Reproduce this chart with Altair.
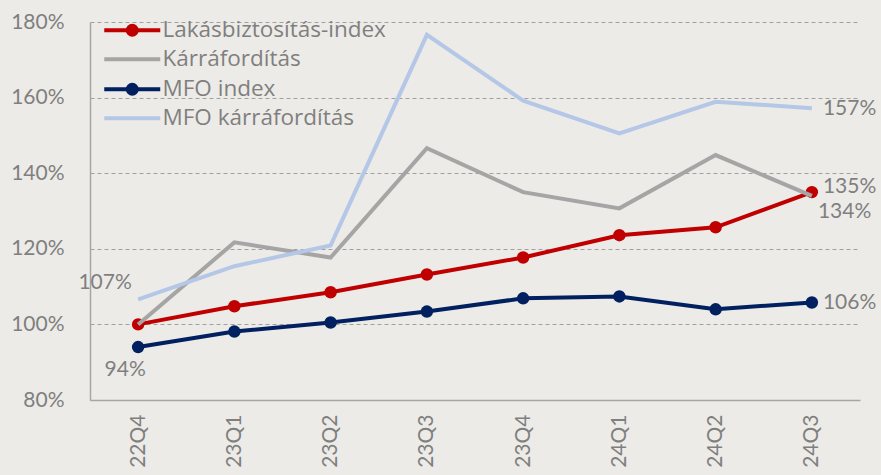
import altair as alt
import pandas as pd

quarters = ["22Q4", "23Q1", "23Q2", "23Q3", "23Q4", "24Q1", "24Q2", "24Q3"]
series_names = ["Lakásbiztosítás-index", "Kárráfordítás", "MFO index", "MFO kárráfordítás"]
series_colors = ["#C00000", "#A5A5A5", "#002060", "#B4C7E7"]
lakas = [1.000, 1.048, 1.085, 1.132, 1.177, 1.236, 1.257, 1.350]
karr = [1.000, 1.217, 1.177, 1.466, 1.350, 1.307, 1.448, 1.340]
mfo_index = [0.940, 0.981, 1.005, 1.034, 1.069, 1.074, 1.040, 1.058]
mfo_karr = [1.066, 1.154, 1.209, 1.766, 1.592, 1.505, 1.589, 1.572]
marker_series = ["Lakásbiztosítás-index", "MFO index"]

values = [lakas, karr, mfo_index, mfo_karr]
rows = []
for name, vals in zip(series_names, values):
    for q, v in zip(quarters, vals):
        rows.append({"quarter": q, "series": name, "value": v})
df = pd.DataFrame(rows)

FONT = "Lato"
LEG_FONT = "Open Sans"
TXT = "#7f7f7f"

line_marker_path = "M-4,0L4,0M-0.64,0A0.64,0.64 0 1,0 0.64,0A0.64,0.64 0 1,0 -0.64,0Z"
line_path = "M-4,0L4,0"

legend = alt.Legend(
    title=None,
    orient="none",
    legendX=31,
    legendY=-3,
    padding=0,
    labelFont=LEG_FONT,
    labelFontSize=22.5,
    labelColor=TXT,
    labelLimit=400,
    labelOffset=19,
    rowPadding=5,
    symbolSize=196,
    symbolStrokeWidth=4,
    symbolType={"expr": "indexof(['Lakásbiztosítás-index','MFO index'], datum.value) >= 0 ? '"
                        + line_marker_path + "' : '" + line_path + "'"},
    symbolFillColor={"expr": "indexof(['Lakásbiztosítás-index','MFO index'], datum.value) >= 0 ? scale('color', datum.value) : 'transparent'"},
)

x_enc = alt.X(
    "quarter:O",
    sort=quarters,
    scale=alt.Scale(type="point", padding=0.5),
    title=None,
    axis=alt.Axis(labelAngle=-90, labelFont=FONT, labelFontSize=21, labelColor=TXT,
                  labelPadding=14, ticks=False, domainColor="#a6a6a6", domainWidth=1.5,
                  grid=False),
)
y_enc = alt.Y(
    "value:Q",
    scale=alt.Scale(domain=[0.8, 1.8], nice=False, zero=False),
    title=None,
    axis=alt.Axis(values=[0.8, 1.0, 1.2, 1.4, 1.6, 1.8], format=".0%", labelFont=FONT,
                  labelFontSize=21, labelColor=TXT, labelPadding=26, ticks=False,
                  domainColor="#a6a6a6", domainWidth=1.5, grid=True,
                  gridColor="#a0a0a0", gridDash=[4, 3], gridWidth=1),
)
color_enc = alt.Color("series:N", scale=alt.Scale(domain=series_names, range=series_colors),
                      legend=legend)

base = alt.Chart(df).encode(x=x_enc, y=y_enc, color=color_enc)

layers = []
for name in series_names:
    sub = base.transform_filter(alt.datum.series == name)
    layers.append(sub.mark_line(strokeWidth=4))
    if name in marker_series:
        layers.append(sub.mark_point(filled=True, size=155, opacity=1))

def label(series, quarter, dx, dy, align):
    return alt.Chart(df).transform_filter(
        (alt.datum.series == series) & (alt.datum.quarter == quarter)
    ).mark_text(font=FONT, fontSize=21, color=TXT, dx=dx, dy=dy, align=align,
                baseline="middle").encode(
        x=alt.X("quarter:O", sort=quarters), y="value:Q",
        text=alt.Text("value:Q", format=".0%"))

layers += [
    label("MFO kárráfordítás", "22Q4", -33, -16, "center"),
    label("MFO index", "22Q4", -13, 23, "center"),
    label("MFO kárráfordítás", "24Q3", 11, 1, "left"),
    label("Lakásbiztosítás-index", "24Q3", 11, -5, "left"),
    label("Kárráfordítás", "24Q3", 6, 16, "left"),
    label("MFO index", "24Q3", 11, 1, "left"),
]

chart = alt.layer(*layers).properties(
    width=770, height=378,
    autosize=alt.AutoSizeParams(type="none"),
    padding={"left": 90, "top": 22, "right": 21, "bottom": 75},
    background="#EDEBE7",
).configure_view(stroke=None)

chart.save("out.html", embed_options={"renderer": "svg", "actions": False})
